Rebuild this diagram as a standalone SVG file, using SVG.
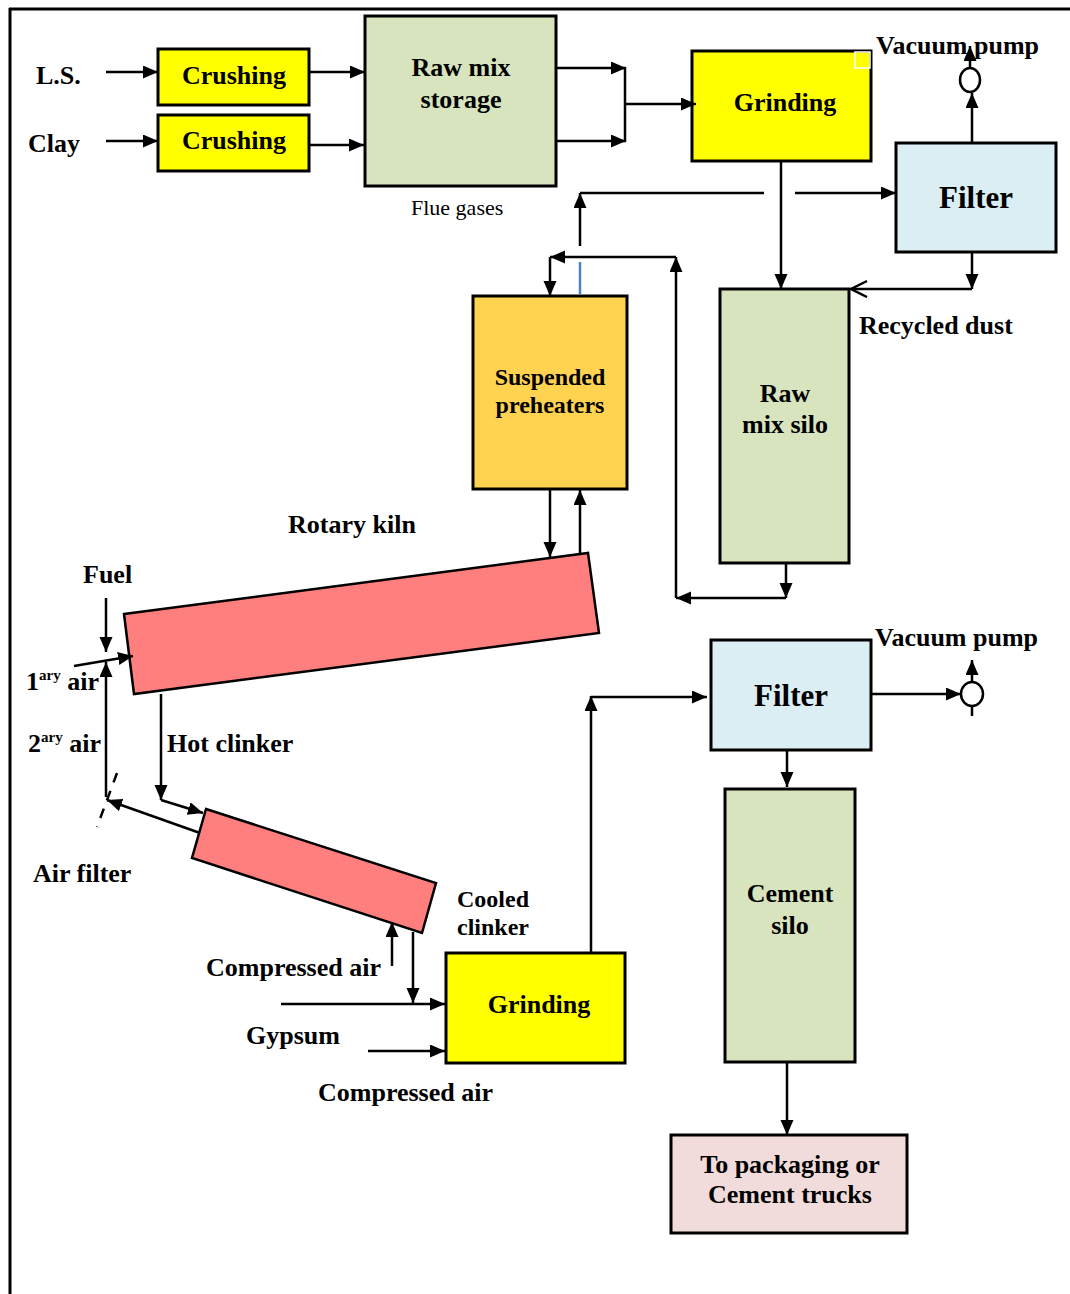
<svg xmlns="http://www.w3.org/2000/svg" width="1070" height="1294" viewBox="0 0 1070 1294">
<defs>
<marker id="ah" markerUnits="userSpaceOnUse" markerWidth="16" markerHeight="14" refX="15" refY="6.5" orient="auto">
<path d="M0,0 L15,6.5 L0,13 z" fill="#000"/>
</marker>
<marker id="open" markerUnits="userSpaceOnUse" markerWidth="20" markerHeight="20" refX="17" refY="9" orient="auto">
<path d="M1,1 L17,9 L1,17" fill="none" stroke="#000" stroke-width="2.5"/>
</marker>
</defs>
<style>
.box{stroke:#000;stroke-width:3}
.yel{fill:#FFFF00}
.grn{fill:#D7E4BD}
.blu{fill:#DAEEF3}
.org{fill:#FFD34F}
.red{fill:#FF7F7F;stroke:#000;stroke-width:2.5}
.pnk{fill:#F2DCDB}
.t{font-family:"Liberation Serif","Times New Roman",serif;font-weight:bold;font-size:26px;fill:#000}
.tc{text-anchor:middle}
.s24{font-size:24px}
.s31{font-size:31px}
.c{fill:none;stroke:#000;stroke-width:2.5}
.a{marker-end:url(#ah)}
.sup{font-size:15px}
</style>
<rect width="1070" height="1294" fill="#fff"/>
<g id="frame">
<line x1="9" y1="9" x2="1070" y2="9" stroke="#000" stroke-width="3"/>
<line x1="10" y1="8" x2="10" y2="1294" stroke="#000" stroke-width="3"/>
</g>
<g id="labels">
<text class="t" x="36" y="84">L.S.</text>
<text class="t" x="28" y="152">Clay</text>
<text x="411" y="215" font-family="Liberation Serif, serif" font-size="22px">Flue gases</text>
<text class="t" x="876" y="54">Vacuum pump</text>
<text class="t" x="859" y="334">Recycled dust</text>
<text class="t" x="288" y="533">Rotary kiln</text>
<text class="t" x="83" y="583">Fuel</text>
<text class="t" x="26" y="690">1<tspan class="sup" dy="-10">ary</tspan><tspan dy="10"> air</tspan></text>
<text class="t" x="28" y="752">2<tspan class="sup" dy="-10">ary</tspan><tspan dy="10"> air</tspan></text>
<text class="t" x="167" y="752">Hot clinker</text>
<text class="t" x="33" y="882">Air filter</text>
<text class="t s24" x="457" y="907">Cooled</text>
<text class="t s24" x="457" y="935">clinker</text>
<text class="t" x="206" y="976">Compressed air</text>
<text class="t" x="246" y="1044">Gypsum</text>
<text class="t" x="318" y="1101">Compressed air</text>
<text class="t" x="875" y="646">Vacuum pump</text>
</g>
<g id="crushing1">
<rect class="box yel" x="158" y="49" width="151" height="56"/>
<text class="t tc" x="234" y="84">Crushing</text>
</g>
<g id="crushing2">
<rect class="box yel" x="158" y="115" width="151" height="56"/>
<text class="t tc" x="234" y="149">Crushing</text>
</g>
<g id="rawmixstorage">
<rect class="box grn" x="365" y="16" width="191" height="170"/>
<text class="t tc" x="461" y="76">Raw mix</text>
<text class="t tc" x="461" y="108">storage</text>
</g>
<g id="grinding1">
<rect class="box yel" x="692" y="51" width="179" height="110"/>
<rect x="855" y="52" width="15" height="16" fill="none" stroke="#fff" stroke-width="1.5"/>
<text class="t tc" x="785" y="111">Grinding</text>
</g>
<g id="filter1">
<rect class="box blu" x="896" y="143" width="160" height="109"/>
<text class="t tc s31" x="976" y="208">Filter</text>
</g>
<g id="pump1">
<ellipse cx="970" cy="80" rx="10" ry="12" fill="#fff" stroke="#000" stroke-width="2.5"/>
</g>
<g id="preheaters">
<rect class="box org" x="473" y="296" width="154" height="193"/>
<text class="t tc s24" x="550" y="385">Suspended</text>
<text class="t tc s24" x="550" y="413">preheaters</text>
</g>
<g id="rawmixsilo">
<rect class="box grn" x="720" y="289" width="129" height="274"/>
<text class="t tc" x="785" y="402">Raw</text>
<text class="t tc" x="785" y="433">mix silo</text>
</g>
<g id="kiln">
<polygon class="red" points="124,614 588,553 599,633 134,694"/>
</g>
<g id="cooler">
<polygon class="red" points="206,809 436,883 422,933 192,858"/>
</g>
<g id="grinding2">
<rect class="box yel" x="446" y="953" width="179" height="110"/>
<text class="t tc" x="539" y="1013">Grinding</text>
</g>
<g id="filter2">
<rect class="box blu" x="711" y="640" width="160" height="110"/>
<text class="t tc s31" x="791" y="706">Filter</text>
</g>
<g id="pump2">
<ellipse cx="972" cy="694" rx="11" ry="12" fill="#fff" stroke="#000" stroke-width="2.5"/>
</g>
<g id="cementsilo">
<rect class="box grn" x="725" y="789" width="130" height="273"/>
<text class="t tc" x="790" y="902">Cement</text>
<text class="t tc" x="790" y="934">silo</text>
</g>
<g id="packaging">
<rect class="box pnk" x="671" y="1135" width="236" height="98"/>
<text class="t tc" x="790" y="1173">To packaging or</text>
<text class="t tc" x="790" y="1203">Cement trucks</text>
</g>
<g id="connectors">
<line class="c a" x1="106" y1="72" x2="158" y2="72"/>
<line class="c a" x1="106" y1="141" x2="158" y2="141"/>
<line class="c a" x1="309" y1="72" x2="365" y2="72"/>
<line class="c a" x1="309" y1="145" x2="364" y2="145"/>
<line class="c a" x1="556" y1="68" x2="626" y2="68"/>
<line class="c a" x1="556" y1="141" x2="626" y2="141"/>
<line class="c" x1="625" y1="67" x2="625" y2="142"/>
<line class="c a" x1="625" y1="104" x2="696" y2="104"/>
<line class="c a" x1="781" y1="161" x2="781" y2="289"/>
<line class="c a" x1="972" y1="143" x2="972" y2="93"/>
<line class="c a" x1="970" y1="68" x2="970" y2="46"/>
<line class="c a" x1="580" y1="246" x2="580" y2="193"/>
<line class="c" x1="580" y1="193" x2="764" y2="193"/>
<line class="c a" x1="795" y1="193" x2="896" y2="193"/>
<line x1="580" y1="262" x2="580" y2="294" stroke="#4F81BD" stroke-width="2.5"/>
<line class="c a" x1="676" y1="257" x2="550" y2="257"/>
<line class="c a" x1="550" y1="257" x2="550" y2="296"/>
<line class="c a" x1="786" y1="563" x2="786" y2="598"/>
<line class="c a" x1="786" y1="598" x2="676" y2="598"/>
<line class="c a" x1="676" y1="598" x2="676" y2="257"/>
<polyline class="c" points="972,289 851,289" style="marker-end:url(#open)"/>
<line class="c a" x1="972" y1="252" x2="972" y2="289"/>
<line class="c a" x1="550" y1="489" x2="550" y2="557"/>
<line class="c a" x1="580" y1="553" x2="580" y2="490"/>
<line class="c a" x1="106" y1="598" x2="106" y2="652"/>
<line class="c a" x1="74" y1="666" x2="133" y2="656"/>
<line class="c a" x1="106" y1="797" x2="106" y2="662"/>
<line x1="117" y1="773" x2="97" y2="827" stroke="#000" stroke-width="2.5" stroke-dasharray="10,9"/>
<line class="c a" x1="200" y1="833" x2="107" y2="800"/>
<line class="c a" x1="161" y1="694" x2="161" y2="800"/>
<line class="c a" x1="161" y1="800" x2="203" y2="813"/>
<line class="c a" x1="392" y1="966" x2="392" y2="922"/>
<line class="c a" x1="413" y1="932" x2="413" y2="1003"/>
<line class="c a" x1="281" y1="1004" x2="445" y2="1004"/>
<line class="c a" x1="368" y1="1051" x2="445" y2="1051"/>
<line class="c a" x1="591" y1="953" x2="591" y2="696"/>
<line class="c a" x1="591" y1="697" x2="707" y2="697"/>
<line class="c a" x1="871" y1="694" x2="961" y2="694"/>
<line class="c a" x1="972" y1="682" x2="972" y2="660"/>
<line class="c" x1="972" y1="706" x2="972" y2="716"/>
<line class="c a" x1="787" y1="750" x2="787" y2="787"/>
<line class="c a" x1="787" y1="1062" x2="787" y2="1135"/>
</g>
</svg>
